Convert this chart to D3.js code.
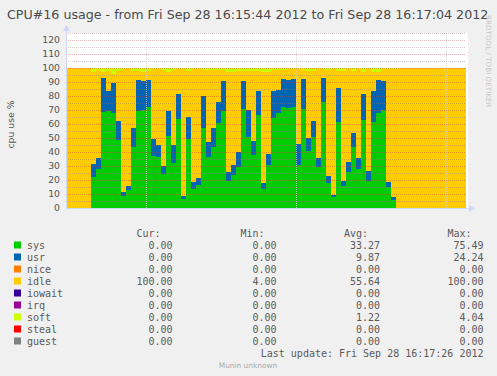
<!DOCTYPE html>
<html>
<head>
<meta charset="utf-8">
<script src="https://cdn.jsdelivr.net/npm/d3@7"></script>
<style>
  html, body { margin: 0; padding: 0; background: #f0f0f0; }
  svg { display: block; }
</style>
</head>
<body>
<svg width="497" height="376"></svg>
<script>
// time window of the graph and first sample with data
const startTime = new Date(2012, 8, 28, 16, 15, 44);
const endTime = new Date(2012, 8, 28, 16, 17, 4);
const firstSample = new Date(2012, 8, 28, 16, 15, 49);

// per-second samples (percent)
const sys = [22.4, 27.9, 68.8, 69.3, 68.1, 48.6, 8.8, 12.9, 43.8, 69.5,
  70.0, 71.9, 37.4, 36.2, 24.5, 51.4, 32.4, 63.6, 6.7, 49.3,
  13.8, 16.7, 57.1, 36.7, 43.8, 61.0, 69.3, 19.5, 23.8, 29.5,
  70.7, 50.9, 38.1, 66.4, 13.8, 31.0, 64.5, 67.6, 71.9, 71.2,
  71.9, 31.0, 70.7, 40.9, 50.5, 29.0, 75.5, 18.1, 8.1, 61.4,
  15.9, 25.9, 43.8, 28.1, 62.9, 19.5, 61.4, 68.1, 70.0, 15.2,
  5.9];
const usr = [8.8, 7.8, 24.1, 14.3, 21.2, 13.5, 2.6, 3.0, 13.3, 21.9,
  21.0, 19.5, 11.9, 9.0, 5.5, 17.9, 12.6, 17.8, 1.9, 15.7,
  4.8, 4.7, 22.9, 10.4, 13.3, 14.7, 21.4, 6.2, 6.7, 10.5,
  20.0, 19.1, 10.0, 17.2, 4.3, 7.6, 19.1, 16.7, 20.2, 20.2,
  20.2, 14.7, 21.4, 9.1, 11.6, 6.7, 17.4, 4.8, 1.4, 24.2,
  3.4, 7.0, 9.8, 7.6, 18.5, 6.9, 22.2, 23.3, 20.7, 3.4,
  2.2];
const soft = [2.9, 1.5, 3.0, 2.0, 4.0, 2.0, 1.0, 1.0, 2.0, 2.3,
  2.9, 2.0, 1.0, 0.8, 1.4, 2.9, 1.4, 1.0, 0.8, 2.3,
  1.0, 0.9, 1.4, 1.4, 1.4, 1.4, 1.4, 2.9, 3.0, 1.8,
  1.8, 1.8, 2.0, 2.0, 2.7, 2.9, 1.4, 1.4, 1.4, 1.0,
  1.0, 0.8, 1.4, 2.1, 2.3, 1.0, 1.0, 1.4, 0.9, 2.1,
  2.1, 0.4, 2.0, 0.8, 2.9, 0.4, 2.9, 2.9, 0.4, 0.8,
  1.0];

const seriesNames = ["sys", "usr", "nice", "idle", "iowait", "irq", "soft", "steal", "guest"];
const seriesColors = ["#00CC00", "#0066B3", "#FF8000", "#FFCC00", "#330099", "#990099", "#CCFF00", "#FF0000", "#808080"];
const curValues = ["0.00", "0.00", "0.00", "100.00", "0.00", "0.00", "0.00", "0.00", "0.00"];
const minValues = ["0.00", "0.00", "0.00", "4.00", "0.00", "0.00", "0.00", "0.00", "0.00"];
const avgValues = ["33.27", "9.87", "0.00", "55.64", "0.00", "0.00", "1.22", "0.00", "0.00"];
const maxValues = ["75.49", "24.24", "0.00", "100.00", "0.00", "0.00", "4.04", "0.00", "0.00"];
const yTicks = [0, 10, 20, 30, 40, 50, 60, 70, 80, 90, 100, 110, 120];

const svg = d3.select("svg");
const plot = { left: 66, right: 466, top: 33, bottom: 208 };

const x = d3.scaleTime().domain([startTime, endTime]).range([plot.left, plot.right]);
const y = d3.scaleLinear().domain([0, 125]).range([plot.bottom, plot.top]);

// one row per second over the whole window, idle = rest of 100
const rows = d3.timeSecond.range(startTime, endTime).map((t) => {
  const i = Math.round((t - firstSample) / 1000);
  const r = { time: t };
  seriesNames.forEach((k) => (r[k] = 0));
  if (i >= 0 && i < sys.length) {
    r.sys = sys[i];
    r.usr = usr[i];
    r.soft = soft[i];
  }
  r.idle = 100 - r.sys - r.usr - r.soft;
  return r;
});
const stacked = d3.stack().keys(seriesNames)(rows);

// canvas
svg.append("rect")
  .attr("x", plot.left).attr("y", plot.top)
  .attr("width", plot.right - plot.left + 2).attr("height", plot.bottom - plot.top)
  .attr("fill", "#ffffff");

// stacked areas, drawn as one step per second
svg.append("g")
  .attr("shape-rendering", "crispEdges")
  .selectAll("g")
  .data(stacked)
  .enter()
  .append("g")
  .attr("fill", (d, i) => seriesColors[i])
  .selectAll("rect")
  .data((d) => d.filter((p) => p[1] - p[0] > 0))
  .enter()
  .append("rect")
  .attr("x", (p) => x(p.data.time))
  .attr("width", (p) => x(d3.timeSecond.offset(p.data.time, 1)) - x(p.data.time))
  .attr("y", (p) => y(p[1]))
  .attr("height", (p) => y(p[0]) - y(p[1]));

// grid (on top of the areas, like rrdtool)
const grid = svg.append("g").attr("shape-rendering", "crispEdges");
grid.selectAll("line.minor")
  .data(d3.range(5, 126, 10))
  .enter()
  .append("line")
  .attr("x1", plot.left).attr("x2", plot.right)
  .attr("y1", (d) => y(d) + 0.5).attr("y2", (d) => y(d) + 0.5)
  .attr("stroke", "rgba(150,120,120,0.4)")
  .attr("stroke-dasharray", "1,1");
grid.selectAll("line.major")
  .data(yTicks.slice(1))
  .enter()
  .append("line")
  .attr("x1", plot.left).attr("x2", plot.right)
  .attr("y1", (d) => y(d) + 0.5).attr("y2", (d) => y(d) + 0.5)
  .attr("stroke", "rgba(200,60,60,0.4)")
  .attr("stroke-dasharray", "1,1");
grid.selectAll("line.vert")
  .data(x.ticks(d3.timeSecond.every(30)))
  .enter()
  .append("line")
  .attr("x1", (d) => x(d) + 0.5).attr("x2", (d) => x(d) + 0.5)
  .attr("y1", plot.top).attr("y2", plot.bottom)
  .attr("stroke", "rgba(205,205,205,0.75)")
  .attr("stroke-dasharray", "1,1");

// axes with arrows
const axisColor = "#CFD6F8";
svg.append("line")
  .attr("x1", plot.left + 0.5).attr("x2", plot.left + 0.5)
  .attr("y1", plot.bottom + 1).attr("y2", 29)
  .attr("stroke", axisColor);
svg.append("path")
  .attr("d", `M${plot.left - 3},${31} L${plot.left + 0.5},${25} L${plot.left + 4},${31} Z`)
  .attr("fill", axisColor);
svg.append("line")
  .attr("x1", plot.left).attr("x2", plot.right + 4)
  .attr("y1", plot.bottom + 0.5).attr("y2", plot.bottom + 0.5)
  .attr("stroke", axisColor);
svg.append("path")
  .attr("d", `M${plot.right + 3},${plot.bottom - 3} L${plot.right + 9},${plot.bottom + 0.5} L${plot.right + 3},${plot.bottom + 4} Z`)
  .attr("fill", axisColor);

// y tick labels
const yAxis = d3.axisLeft(y).tickValues(yTicks).tickSize(0).tickPadding(6);
svg.append("g")
  .attr("transform", `translate(${plot.left},0)`)
  .call(yAxis)
  .call((g) => g.select(".domain").remove())
  .call((g) => g.selectAll("text")
    .attr("fill", "#555")
    .attr("font-family", "DejaVu Sans")
    .attr("font-size", "9.3px"));

// titles
svg.append("text")
  .attr("x", 7).attr("y", 19)
  .attr("font-family", "DejaVu Sans").attr("font-size", "12.65px")
  .attr("fill", "#4a4a4a")
  .text("CPU#16 usage - from Fri Sep 28 16:15:44 2012 to Fri Sep 28 16:17:04 2012");

svg.append("text")
  .attr("transform", `translate(14,${(plot.top + plot.bottom) / 2 + 4}) rotate(-90)`)
  .attr("text-anchor", "middle")
  .attr("font-family", "DejaVu Sans").attr("font-size", "9.3px")
  .attr("fill", "#555")
  .text("cpu use %");

svg.append("text")
  .attr("transform", "translate(485.5,15) rotate(90)")
  .attr("font-family", "DejaVu Sans").attr("font-size", "7.2px")
  .attr("fill", "#c8c8c8")
  .text("RRDTOOL / TOBI OETIKER");

// legend
const mono = "DejaVu Sans Mono";
const colRight = [172.5, 276.5, 380, 483.5];
const colHead = ["Cur:", "Min:", "Avg:", "Max:"];
const legend = svg.append("g")
  .attr("font-family", mono).attr("font-size", "10px")
  .attr("fill", "#5a5a5a");

legend.selectAll("text.head")
  .data(colHead)
  .enter()
  .append("text")
  .attr("x", (d, i) => colRight[i] - 36)
  .attr("y", 237)
  .text((d) => d);

const rowY = (i) => 249 + i * 12;
const items = legend.selectAll("g.item")
  .data(seriesNames)
  .enter()
  .append("g");
items.append("rect")
  .attr("x", 14).attr("y", (d, i) => rowY(i) - 7.5)
  .attr("width", 7).attr("height", 7)
  .attr("fill", (d, i) => seriesColors[i]);
items.append("text")
  .attr("x", 27).attr("y", (d, i) => rowY(i))
  .text((d) => d);
[curValues, minValues, avgValues, maxValues].forEach((vals, c) => {
  items.append("text")
    .attr("x", colRight[c]).attr("y", (d, i) => rowY(i))
    .attr("text-anchor", "end")
    .text((d, i) => vals[i]);
});

legend.append("text")
  .attr("x", 483.5).attr("y", rowY(9))
  .attr("text-anchor", "end")
  .text("Last update: Fri Sep 28 16:17:26 2012");

svg.append("text")
  .attr("x", 248).attr("y", 368)
  .attr("text-anchor", "middle")
  .attr("font-family", "DejaVu Sans").attr("font-size", "7.4px")
  .attr("fill", "#aaa")
  .text("Munin unknown");
</script>
</body>
</html>
